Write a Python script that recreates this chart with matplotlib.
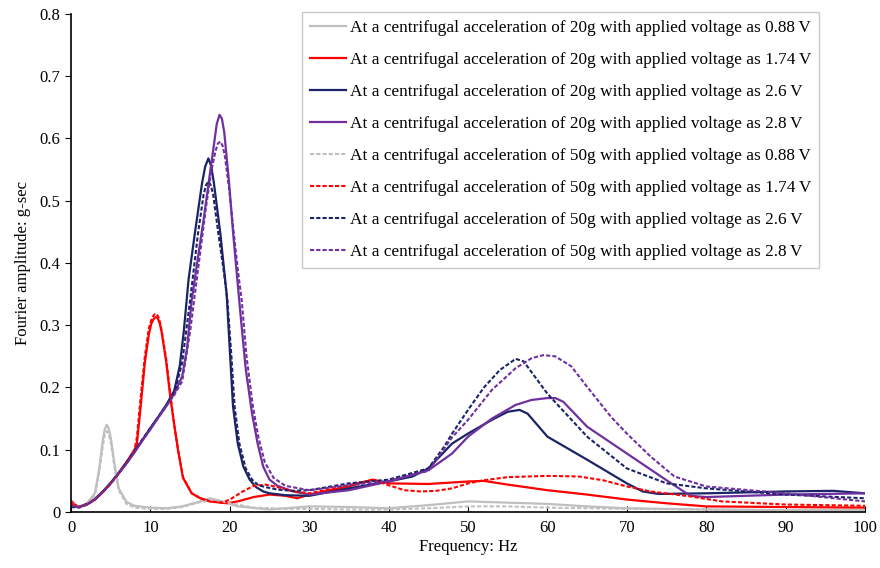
import matplotlib
matplotlib.use("Agg")
import matplotlib.pyplot as plt

plt.rcParams['font.family'] = ['Liberation Serif', 'DejaVu Serif']

# 20g, 0.88 V
f_20_088 = [0, 1, 2, 3, 3.5, 4, 4.25, 4.5, 4.75, 5, 5.5, 6, 7, 8, 10, 12, 14, 16, 17.5, 19, 21,
            25, 30, 35, 40, 45, 50, 55, 60, 65, 70, 80, 90, 100]
a_20_088 = [0.012, 0.008, 0.014, 0.03, 0.065, 0.115, 0.133, 0.14, 0.134, 0.12, 0.075, 0.038,
            0.016, 0.01, 0.007, 0.006, 0.009, 0.016, 0.022, 0.017, 0.009, 0.004, 0.009, 0.008,
            0.006, 0.011, 0.017, 0.015, 0.013, 0.009, 0.006, 0.004, 0.003, 0.003]

# 20g, 1.74 V
f_20_174 = [0, 0.5, 1, 2, 3, 4, 5, 6, 7, 8, 8.3, 8.7, 9.3, 9.8, 10.1, 10.4, 10.65, 10.9, 11.15,
            11.4, 12, 12.5, 13, 13.5, 14.1, 15.2, 16.3, 17.5, 19.6, 21, 23, 25, 27, 28.5, 30, 35,
            38, 40, 45, 50, 52, 55, 60, 65, 70, 75, 80, 90, 100]
a_20_174 = [0.018, 0.012, 0.008, 0.012, 0.02, 0.032, 0.046, 0.062, 0.08, 0.1, 0.11, 0.16, 0.24,
            0.285, 0.302, 0.31, 0.313, 0.312, 0.304, 0.29, 0.24, 0.185, 0.14, 0.098, 0.055,
            0.03, 0.022, 0.017, 0.014, 0.017, 0.024, 0.028, 0.026, 0.022, 0.028, 0.041, 0.052,
            0.046, 0.045, 0.049, 0.05, 0.044, 0.035, 0.028, 0.02, 0.014, 0.009, 0.008, 0.007]

# 20g, 2.6 V
f_20_26 = [0, 1, 2, 3, 4, 5, 6, 7, 8, 9, 10, 11, 12, 13, 13.7, 14.2, 14.8, 15.6, 16.5, 16.9,
           17.3, 17.65, 18.0, 18.8, 19.6, 20.0, 20.4, 21.0, 21.7, 22.5, 23.3, 24.2, 25, 27, 30,
           35, 40, 43, 45, 48, 50, 53, 55, 56.5, 57.5, 60, 65, 70, 72, 74, 80, 90, 96, 100]
a_20_26 = [0.01, 0.008, 0.013, 0.021, 0.033, 0.047, 0.063, 0.08, 0.097, 0.116, 0.135, 0.153,
           0.172, 0.195, 0.235, 0.29, 0.373, 0.448, 0.528, 0.555, 0.568, 0.556, 0.528, 0.448,
           0.35, 0.26, 0.17, 0.11, 0.073, 0.052, 0.04, 0.033, 0.03, 0.027, 0.026, 0.038, 0.049,
           0.057, 0.07, 0.11, 0.126, 0.148, 0.161, 0.164, 0.158, 0.121, 0.084, 0.046, 0.033,
           0.029, 0.03, 0.033, 0.034, 0.03]

# 20g, 2.8 V
f_20_28 = [0, 1, 2, 3, 4, 5, 6, 7, 8, 9, 10, 11, 12, 13, 14, 14.6, 15.2, 16.0, 16.7, 17.4,
           18.0, 18.35, 18.7, 19.0, 19.3, 19.9, 20.4, 20.9, 21.4, 22.0, 22.8, 23.5, 24.2, 25,
           26, 28, 30, 35, 40, 45, 48, 50, 53, 56, 58, 60, 61, 62, 65, 70, 75, 78, 80, 90, 100]
a_20_28 = [0.01, 0.008, 0.012, 0.02, 0.032, 0.046, 0.062, 0.078, 0.096, 0.115, 0.133, 0.152,
           0.17, 0.19, 0.218, 0.262, 0.34, 0.41, 0.47, 0.535, 0.59, 0.623, 0.638, 0.632, 0.61,
           0.53, 0.45, 0.38, 0.31, 0.23, 0.158, 0.11, 0.073, 0.052, 0.042, 0.033, 0.028, 0.035,
           0.049, 0.067, 0.094, 0.121, 0.15, 0.172, 0.18, 0.183, 0.183, 0.177, 0.137, 0.094,
           0.051, 0.026, 0.024, 0.028, 0.03]

# 50g, 0.88 V
f_50_088 = [0, 1, 2, 3, 3.5, 4, 4.25, 4.5, 4.75, 5, 5.5, 6, 7, 8, 10, 12, 14, 16, 18, 20, 23,
            27, 30, 35, 40, 45, 50, 55, 60, 70, 80, 90, 100]
a_50_088 = [0.015, 0.008, 0.012, 0.026, 0.06, 0.105, 0.124, 0.13, 0.125, 0.112, 0.07, 0.035,
            0.013, 0.007, 0.005, 0.005, 0.008, 0.015, 0.02, 0.014, 0.007, 0.005, 0.005, 0.004,
            0.004, 0.006, 0.009, 0.009, 0.007, 0.005, 0.004, 0.003, 0.003]

# 50g, 1.74 V
f_50_174 = [0, 0.5, 1, 2, 3, 4, 5, 6, 7, 8, 8.3, 8.7, 9.3, 9.8, 10.1, 10.4, 10.6, 10.8, 11.05,
            11.3, 12, 12.5, 13, 13.5, 14.1, 15.2, 16.3, 17.5, 19, 20, 21.5, 23, 24.5, 26, 28, 30,
            35, 38, 40, 42, 44, 46, 48, 50, 52, 55, 60, 64, 67, 70, 73, 78, 82, 90, 100]
a_50_174 = [0.015, 0.01, 0.008, 0.012, 0.02, 0.032, 0.046, 0.062, 0.08, 0.1, 0.12, 0.175, 0.25,
            0.295, 0.308, 0.316, 0.318, 0.318, 0.312, 0.3, 0.245, 0.19, 0.14, 0.098, 0.056,
            0.03, 0.022, 0.017, 0.015, 0.02, 0.032, 0.042, 0.044, 0.04, 0.033, 0.03, 0.043,
            0.052, 0.043, 0.035, 0.033, 0.034, 0.038, 0.046, 0.051, 0.056, 0.058, 0.057, 0.051,
            0.041, 0.033, 0.025, 0.017, 0.012, 0.01]

# 50g, 2.6 V
f_50_26 = [0, 1, 2, 3, 4, 5, 6, 7, 8, 9, 10, 11, 12, 13, 14, 15, 16, 16.7, 17.0, 17.3, 17.6,
           17.9, 18.55, 19.2, 19.7, 20.2, 20.6, 21.2, 22, 22.8, 23.6, 24.5, 26, 28, 30, 35, 40,
           45, 47, 48, 50, 52, 54, 56, 57, 60, 65, 70, 75, 80, 90, 100]
a_50_26 = [0.008, 0.007, 0.012, 0.02, 0.032, 0.046, 0.062, 0.08, 0.098, 0.117, 0.135, 0.153,
           0.172, 0.19, 0.24, 0.34, 0.448, 0.51, 0.525, 0.531, 0.525, 0.51, 0.448, 0.39, 0.34,
           0.25, 0.17, 0.11, 0.07, 0.052, 0.043, 0.04, 0.036, 0.034, 0.035, 0.046, 0.052, 0.07,
           0.105, 0.126, 0.164, 0.2, 0.228, 0.246, 0.242, 0.19, 0.121, 0.07, 0.046, 0.038,
           0.028, 0.022]

# 50g, 2.8 V
f_50_28 = [0, 1, 2, 3, 4, 5, 6, 7, 8, 9, 10, 11, 12, 13, 14, 15, 15.5, 16.3, 17.0, 17.7, 18.2,
           18.5, 18.8, 19.1, 19.4, 19.9, 20.5, 21.0, 21.5, 22.1, 22.9, 23.6, 24.4, 25.5, 27, 30,
           35, 40, 45, 48, 50, 53, 56, 58, 59.5, 61, 63, 65, 68, 70, 73, 76, 80, 90, 100]
a_50_28 = [0.01, 0.008, 0.012, 0.02, 0.032, 0.046, 0.062, 0.078, 0.096, 0.115, 0.133, 0.152,
           0.17, 0.188, 0.21, 0.29, 0.34, 0.42, 0.49, 0.55, 0.58, 0.592, 0.595, 0.588, 0.57,
           0.52, 0.448, 0.39, 0.34, 0.25, 0.17, 0.12, 0.08, 0.055, 0.042, 0.035, 0.043, 0.05,
           0.066, 0.12, 0.148, 0.196, 0.231, 0.247, 0.252, 0.25, 0.234, 0.201, 0.153, 0.126,
           0.089, 0.057, 0.041, 0.03, 0.017]

voltages = ['0.88', '1.74', '2.6', '2.8']
colors = ['#BFBFBF', '#FF0000', '#1A2466', '#7030A0']

series_20 = [(f_20_088, a_20_088), (f_20_174, a_20_174), (f_20_26, a_20_26), (f_20_28, a_20_28)]
series_50 = [(f_50_088, a_50_088), (f_50_174, a_50_174), (f_50_26, a_50_26), (f_50_28, a_50_28)]

fig = plt.figure(figsize=(8.8, 5.68), dpi=100)
ax = fig.add_axes([0.0807, 0.0986, 0.9023, 0.8768])

for (f, a), v, c in zip(series_20, voltages, colors):
    ax.plot(f, a, color=c, lw=1.6,
            label=f'At a centrifugal acceleration of 20g with applied voltage as {v}\u2009V')
for (f, a), v, c in zip(series_50, voltages, colors):
    ax.plot(f, a, color=c, lw=1.5, linestyle=(0, (2, 1)),
            label=f'At a centrifugal acceleration of 50g with applied voltage as {v}\u2009V')

ax.set_xlim(0, 100)
ax.set_ylim(0, 0.8)
ax.set_xticks(range(0, 101, 10))
ax.set_yticks([0, 0.1, 0.2, 0.3, 0.4, 0.5, 0.6, 0.7, 0.8])
ax.set_yticklabels(['0', '0.1', '0.2', '0.3', '0.4', '0.5', '0.6', '0.7', '0.8'])
ax.spines['top'].set_visible(False)
ax.spines['right'].set_visible(False)
ax.spines['left'].set_linewidth(1.2)
ax.spines['bottom'].set_linewidth(1.2)
ax.tick_params(axis='x', direction='in', length=4, labelsize=12, pad=6)
ax.tick_params(axis='y', direction='out', length=4, labelsize=12)
ax.set_xlabel('Frequency: Hz', fontsize=12, labelpad=2)
ax.set_ylabel('Fourier amplitude: g-sec', fontsize=12, labelpad=6)

leg = ax.legend(loc='upper left', bbox_to_anchor=(302 / 880, 1 - 12 / 568),
                bbox_transform=fig.transFigure, fontsize=12.4, frameon=True, fancybox=False,
                edgecolor='#BFBFBF', handlelength=2.1, handletextpad=0.25,
                labelspacing=0.93, borderpad=0.45, borderaxespad=0)
leg.get_frame().set_linewidth(1.0)

fig.savefig('out.png', dpi=100)
